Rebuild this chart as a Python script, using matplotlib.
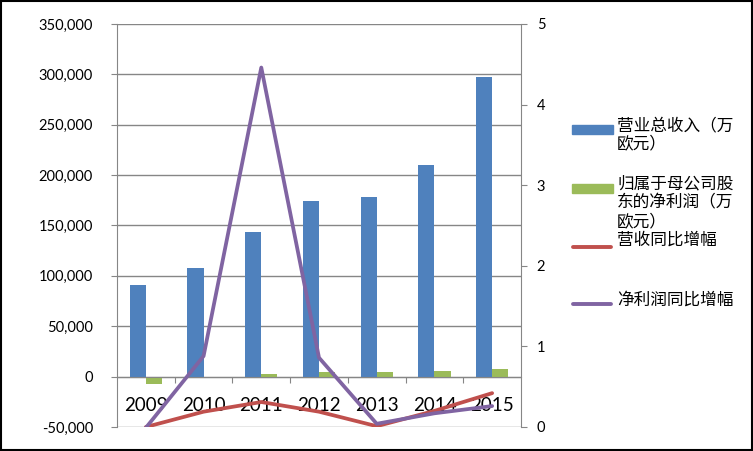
import numpy as np
import matplotlib.pyplot as plt
from matplotlib.ticker import FuncFormatter
from matplotlib.lines import Line2D
from matplotlib.patches import Rectangle

plt.rcParams['font.family'] = ['Lato', 'Noto Sans CJK SC', 'DejaVu Sans']

# 数据
years = ['2009', '2010', '2011', '2012', '2013', '2014', '2015']
revenue = [90500, 107500, 143500, 174500, 178000, 210000, 297500]   # 营业总收入（万欧元）
net_profit = [-7700, 0, 3000, 5000, 5000, 6000, 8000]               # 归属于母公司股东的净利润
rev_growth = [0.0, 0.19, 0.31, 0.19, 0.01, 0.20, 0.42]              # 营收同比增幅
np_growth = [-0.01, 0.88, 4.46, 0.86, 0.04, 0.17, 0.26]             # 净利润同比增幅

names = ['营业总收入（万\n欧元）', '归属于母公司股\n东的净利润（万\n欧元）',
         '营收同比增幅', '净利润同比增幅']
colors = ['#4F81BD', '#9BBB59', '#C0504D', '#8064A2']
grey = '#868686'

W, H = 753, 451
fig = plt.figure(figsize=(W / 100, H / 100), dpi=100)
ax = fig.add_axes([117 / W, 1 - 427 / H, 404 / W, 403 / H])

x = np.arange(len(years))
w = 0.28
ax.bar(x - w / 2, revenue, w, color=colors[0], zorder=2)
ax.bar(x + w / 2, net_profit, w, color=colors[1], zorder=2)

ax.set_xlim(-0.5, len(years) - 0.5)
ax.set_ylim(-50000, 350000)
ax.set_yticks(np.arange(-50000, 350001, 50000))
ax.yaxis.set_major_formatter(FuncFormatter(lambda v, p: f'{v:,.0f}'))
ax.yaxis.grid(True, color=grey, lw=1)
ax.set_axisbelow(True)
ax.tick_params(axis='y', direction='out', length=4.3, color=grey, pad=13, labelsize=10.5)

# x轴在 0 处
ax.spines['bottom'].set_position(('data', 0))
ax.spines['bottom'].set_color(grey)
ax.spines['left'].set_color(grey)
ax.spines['top'].set_visible(False)
ax.spines['right'].set_visible(False)
ax.set_xticks(x[:-1] + 0.5)
ax.set_xticklabels([])
ax.set_xticks(x, minor=True)
ax.set_xticklabels(years, minor=True)
ax.tick_params(axis='x', which='major', direction='out', length=4.3, color=grey)
ax.tick_params(axis='x', which='minor', length=0, pad=15, labelsize=13.5)

ax2 = ax.twinx()
ax2.plot(x, rev_growth, color=colors[2], lw=2.7, solid_joinstyle='round', solid_capstyle='round')
ax2.plot(x, np_growth, color=colors[3], lw=2.7, solid_joinstyle='round', solid_capstyle='round')
ax2.set_ylim(0, 5)
ax2.set_yticks(range(0, 6))
ax2.tick_params(axis='y', direction='out', length=4.3, color=grey, pad=7, labelsize=10.5)
for s in ['top', 'bottom', 'left']:
    ax2.spines[s].set_visible(False)
ax2.spines['right'].set_color(grey)

# 图例（手动放置）
handle_y = [129, 188, 247, 304]
text_top = [117, 175, 232, 292]
for i in range(4):
    yy = 1 - handle_y[i] / H
    if i < 2:
        fig.add_artist(Rectangle((572 / W, yy - 4.5 / H), 41 / W, 9 / H,
                                 transform=fig.transFigure, color=colors[i]))
    else:
        fig.add_artist(Line2D([573 / W, 611 / W], [yy, yy], transform=fig.transFigure,
                              color=colors[i], lw=2.8, solid_capstyle='round'))
    fig.text(617 / W, 1 - text_top[i] / H, names[i], fontsize=12, va='top', ha='left',
             linespacing=1.28)

fig.add_artist(Rectangle((0.0015, 0.002), 0.997, 0.996, transform=fig.transFigure,
                         fill=False, ec='black', lw=1.5))

fig.savefig('out.png', dpi=100)
